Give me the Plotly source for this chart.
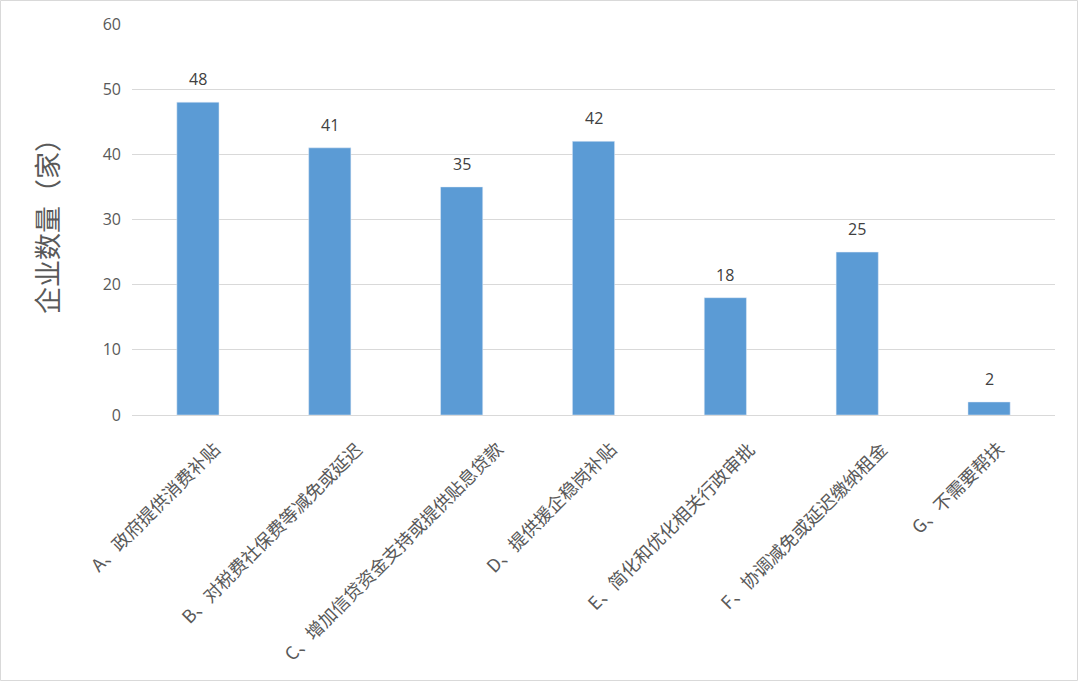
import plotly.graph_objects as go

categories = ["A、政府提供消费补贴", "B、对税费社保费等减免或延迟", "C、增加信贷资金支持或提供贴息贷款",
              "D、提供援企稳岗补贴", "E、简化和优化相关行政审批", "F、协调减免或延迟缴纳租金", "G、不需要帮扶"]
values = [48, 41, 35, 42, 18, 25, 2]

W, H = 1079, 682
L, R, T, B = 132, 24, 24, 267
pw, ph = W - L - R, H - T - B

fig = go.Figure(go.Bar(
    x=categories, y=values, marker_color="#5b9bd5",
))
for c, v in zip(categories, values):
    fig.add_annotation(x=c, y=v, text=str(v), showarrow=False, yanchor="bottom", yshift=10,
                       font=dict(size=16, color="#404040", family="Open Sans"))
    # rotated category label, anchored like the spreadsheet's (longer labels sit further right)
    fig.add_annotation(x=c, y=0, text=c, showarrow=False, textangle=-45,
                       xanchor="right", yanchor="top", yshift=-18, xshift=2.6 * len(c) + 4,
                       font=dict(size=18, color="#595959", family="Noto Sans CJK SC"))
fig.update_layout(
    width=W, height=H, margin=dict(l=L, r=R, t=T, b=B),
    plot_bgcolor="white", paper_bgcolor="white", bargap=0.68,
    showlegend=False,
    font=dict(family="Noto Sans CJK SC", color="#595959"),
    xaxis=dict(showticklabels=False, showline=False, ticks="", range=[-0.5, len(categories) - 0.5],
               autorange=False),
    yaxis=dict(range=[0, 60], autorange=False, dtick=10, gridcolor="#d9d9d9", gridwidth=1,
               zeroline=True, zerolinecolor="#d9d9d9", zerolinewidth=1,
               tickfont=dict(size=16, color="#595959", family="Open Sans"),
               ticklen=0, ticks="", ticklabelstandoff=10,
               title=dict(text="企业数量（家）", font=dict(size=27, color="#595959", family="Noto Sans CJK SC"),
                          standoff=36)),
    shapes=[dict(type="rect", xref="paper", yref="paper",
                 x0=-(L - 0.5) / pw, x1=1 + (R - 1.5) / pw,
                 y0=-(B - 1.5) / ph, y1=1 + (T - 0.5) / ph,
                 line=dict(color="#d9d9d9", width=1))],
)
fig.write_html("out.html", config={"displayModeBar": False},
               post_script="document.body.style.margin='0';document.body.style.overflow='hidden';")
